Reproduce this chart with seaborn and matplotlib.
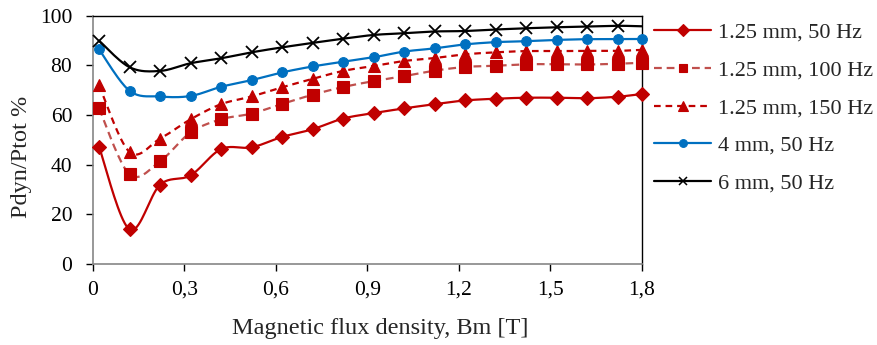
import numpy as np
import pandas as pd
import matplotlib
matplotlib.use("Agg")
import matplotlib.pyplot as plt
import seaborn as sns
from matplotlib.lines import Line2D

bm = [0.02, 0.12, 0.22, 0.32, 0.42, 0.52, 0.62, 0.72, 0.82, 0.92,
      1.02, 1.12, 1.22, 1.32, 1.42, 1.52, 1.62, 1.72, 1.80]

s_125_50 = [47.2, 13.9, 31.9, 35.7, 46.3, 47.0, 51.2, 54.3, 58.6, 60.8,
            62.7, 64.4, 65.9, 66.6, 67.0, 67.0, 66.8, 67.4, 68.5]
s_125_100 = [62.7, 36.1, 41.4, 53.0, 58.3, 60.6, 64.5, 68.2, 71.3, 73.7,
             75.7, 77.9, 79.4, 79.9, 80.5, 80.5, 80.4, 80.7, 81.1]
s_125_150 = [72.0, 45.1, 50.5, 58.3, 64.4, 67.5, 71.2, 74.6, 77.8, 79.8,
             81.8, 83.0, 84.5, 85.3, 85.8, 85.8, 85.9, 85.9, 86.3]
s_4_50 = [86.5, 69.8, 67.5, 67.7, 71.4, 74.1, 77.2, 79.6, 81.5, 83.3,
          85.6, 86.9, 88.5, 89.4, 89.8, 90.3, 90.6, 90.6, 90.7]
s_6_50 = [90.0, 79.3, 77.8, 80.9, 82.9, 85.3, 87.3, 89.1, 90.8, 92.3,
          93.0, 93.7, 93.9, 94.5, 95.0, 95.4, 95.7, 96.0, 95.8]

labels = ["1.25 mm, 50 Hz", "1.25 mm, 100 Hz", "1.25 mm, 150 Hz",
          "4 mm, 50 Hz", "6 mm, 50 Hz"]
x_ticks = [0, 0.3, 0.6, 0.9, 1.2, 1.5, 1.8]
x_ticklabels = ["0", "0,3", "0,6", "0,9", "1,2", "1,5", "1,8"]
y_ticks = [0, 20, 40, 60, 80, 100]

RED = "#C00000"
styles = [
    dict(color=RED, ls="-", marker="D", ms=7.5, mc=RED),
    dict(color="#C0504D", ls=(0, (3.5, 2.2)), marker="s", ms=8, mc=RED),
    dict(color=RED, ls=(0, (3.0, 2.2)), marker="^", ms=8.5, mc=RED),
    dict(color="#0070C0", ls="-", marker="o", ms=7, mc="#0070C0"),
    dict(color="black", ls="-", marker="x", ms=8, mc="black"),
]


def smooth(x, y, n=20):
    """Excel-like smoothed line (cubic Bezier through points)."""
    x = np.asarray(x, float)
    y = np.asarray(y, float)
    P = np.column_stack([x / 1.8 * 2.2, y / 100.0])
    out = []
    m = len(P)
    for i in range(m - 1):
        p0 = P[i - 1] if i > 0 else P[i]
        p1 = P[i]
        p2 = P[i + 1]
        p3 = P[i + 2] if i + 2 < m else P[i + 1]
        c1 = p1 + (p2 - p0) / 6.0
        c2 = p2 - (p3 - p1) / 6.0
        t = np.linspace(0, 1, n, endpoint=(i == m - 2))[:, None]
        b = ((1 - t) ** 3) * p1 + 3 * ((1 - t) ** 2) * t * c1 + 3 * (1 - t) * t ** 2 * c2 + t ** 3 * p2
        out.append(b)
    B = np.vstack(out)
    return B[:, 0] / 2.2 * 1.8, B[:, 1] * 100.0


sns.set_theme(style="white")
plt.rcParams["font.family"] = ["Liberation Serif", "DejaVu Serif"]

fig = plt.figure(figsize=(8.77, 3.45), dpi=100)
ax = fig.add_axes([0.106, 0.235, 0.626, 0.719])

series = [s_125_50, s_125_100, s_125_150, s_4_50, s_6_50]
handles = []
for vals, lab, st in zip(series, labels, styles):
    xs, ys = smooth(bm, vals)
    sns.lineplot(x=xs, y=ys, ax=ax, color=st["color"], lw=1.6,
                 linestyle=st["ls"], sort=False, estimator=None)
    mx = bm if st["marker"] != "x" else bm[:-1]
    my = vals if st["marker"] != "x" else vals[:-1]
    mew = 1.3 if st["marker"] == "x" else 0.8
    ax.plot(mx, my, ls="none", marker=st["marker"], ms=st["ms"],
            color=st["mc"], mec=st["mc"], mew=mew, clip_on=False, zorder=5)
    handles.append(Line2D([0], [0], color=st["color"], lw=1.6, linestyle=st["ls"],
                          marker=st["marker"], ms=st["ms"] * 0.8, mfc=st["mc"],
                          mec=st["mc"], mew=1.1 if st["marker"] == "x" else 0.8))

ax.set_xlim(0, 1.8)
ax.set_ylim(0, 100)
ax.set_xticks(x_ticks)
ax.set_xticklabels(x_ticklabels)
ax.set_yticks(y_ticks)
ax.tick_params(axis="both", labelsize=15.5, colors="black", length=5,
               width=1, direction="out", bottom=True, left=True)
ax.tick_params(axis="x", pad=7)
ax.tick_params(axis="y", pad=10)
for t in ax.get_xticklines() + ax.get_yticklines():
    t.set_color("#868686")
ax.set_xlabel("Magnetic flux density, Bm [T]", fontsize=17.5)
ax.set_ylabel("Pdyn/Ptot %", fontsize=17.5)
ax.xaxis.set_label_coords(0.523, -0.218)
ax.yaxis.set_label_coords(-0.111, 0.431)

for side in ["left", "bottom"]:
    ax.spines[side].set_color("#868686")
    ax.spines[side].set_linewidth(1.2)
for side in ["top", "right"]:
    ax.spines[side].set_color("black")
    ax.spines[side].set_linewidth(1.0)
ax.grid(False)

leg = fig.legend(handles, labels, loc="upper left", bbox_to_anchor=(0.746, 0.935),
                 frameon=False, fontsize=16, handlelength=2.55, labelspacing=0.77,
                 handletextpad=0.3, borderaxespad=0, borderpad=0)

fig.savefig("out.png", dpi=100)
